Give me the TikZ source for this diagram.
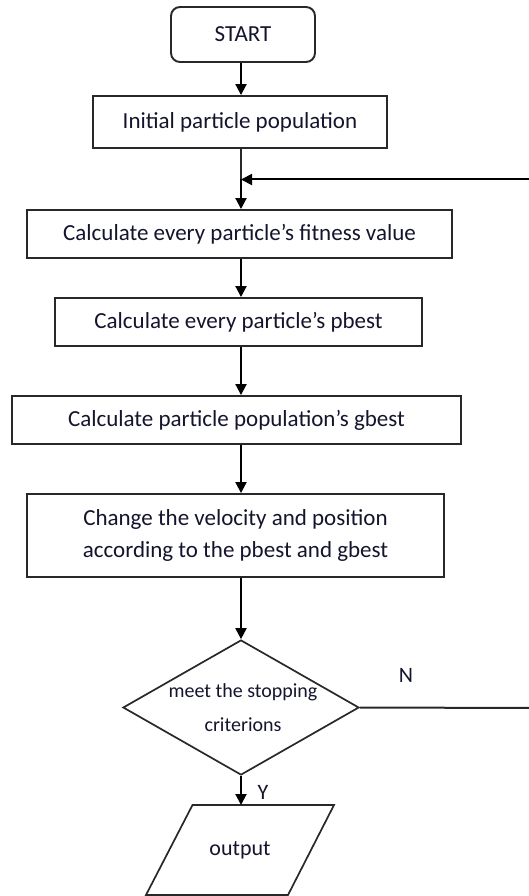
\documentclass[tikz,border=0pt]{standalone}
\usepackage{fontspec}
\setmainfont{Carlito}
\usetikzlibrary{arrows.meta,shapes.geometric}
\definecolor{lineclr}{RGB}{40,40,40}
\definecolor{txtclr}{RGB}{20,20,45}
\begin{document}
\begin{tikzpicture}[x=1pt,y=-1pt,
  proc/.style={draw=lineclr, line width=1.9pt, rectangle, inner sep=0pt, align=center,
    text=txtclr, font=\fontsize{23}{32}\selectfont},
  decide/.style={draw=lineclr, line width=1.7pt, diamond, aspect=1.75, inner sep=0pt},
  lbl/.style={inner sep=0pt, align=center, text=txtclr, font=\fontsize{22}{26}\selectfont},
  dtext/.style={inner sep=0pt, align=center, text=txtclr, font=\fontsize{20}{34}\selectfont},
  flow/.style={draw=black, line width=2pt, -{Triangle[length=11pt,width=11pt]}},
  plain/.style={draw=lineclr, line width=2pt}
]
\useasboundingbox (0,0) rectangle (529,896);
\clip (0,0) rectangle (529,896);
\coordinate (spine) at (241,0);
\node[proc, rounded corners=9pt, minimum width=144pt, minimum height=55pt] (start) at (243,34.5) {START};
\node[proc, minimum width=294pt, minimum height=52pt] (init) at (240,122) {Initial particle population};
\node[proc, minimum width=425pt, minimum height=48pt] (fit) at (239.5,234) {Calculate every particle’s fitness value};
\node[proc, minimum width=367pt, minimum height=48pt] (pbest) at (238.5,322) {Calculate every particle’s pbest};
\node[proc, minimum width=449pt, minimum height=48pt] (gbest) at (236.5,420) {Calculate particle population’s gbest};
\node[proc, minimum width=417pt, minimum height=83pt] (change) at (235.5,535.5) {Change the velocity and position\\according to the pbest and gbest};
\node[decide, minimum width=236pt, minimum height=135pt] (dec) at (241,707.5) {};
\node[dtext] (dectxt) at (243,708) {meet the stopping\\criterions};
\node[lbl] (outtxt) at (240,850) {output};
\coordinate (outtop) at (241,805);
\draw[plain, line width=1.7pt] (146,895) -- (192.5,805) -- (334,805) -- (288,895) -- cycle;
\node[lbl] (nlbl) at (406,675) {N};
\node[lbl] (ylbl) at (263,792) {Y};
\coordinate (merge) at (241,179.5);
\coordinate (rtop) at (535,179.5);
\coordinate (rbot) at (535,708);

\draw[flow] (start.south -| spine) -- (init.north -| spine);
\draw[plain] (init.south -| spine) -- (merge);
\draw[flow] (merge) -- (fit.north -| spine);
\draw[flow] (fit.south -| spine) -- (pbest.north -| spine);
\draw[flow] (pbest.south -| spine) -- (gbest.north -| spine);
\draw[flow] (gbest.south -| spine) -- (change.north -| spine);
\draw[flow] (change.south -| spine) -- (dec.north);
\draw[flow] (dec.south) -- (outtop);
\draw[plain] (dec.east) -- (rbot) -- (rtop);
\draw[flow] (rtop) -- (merge);
\end{tikzpicture}
\end{document}
